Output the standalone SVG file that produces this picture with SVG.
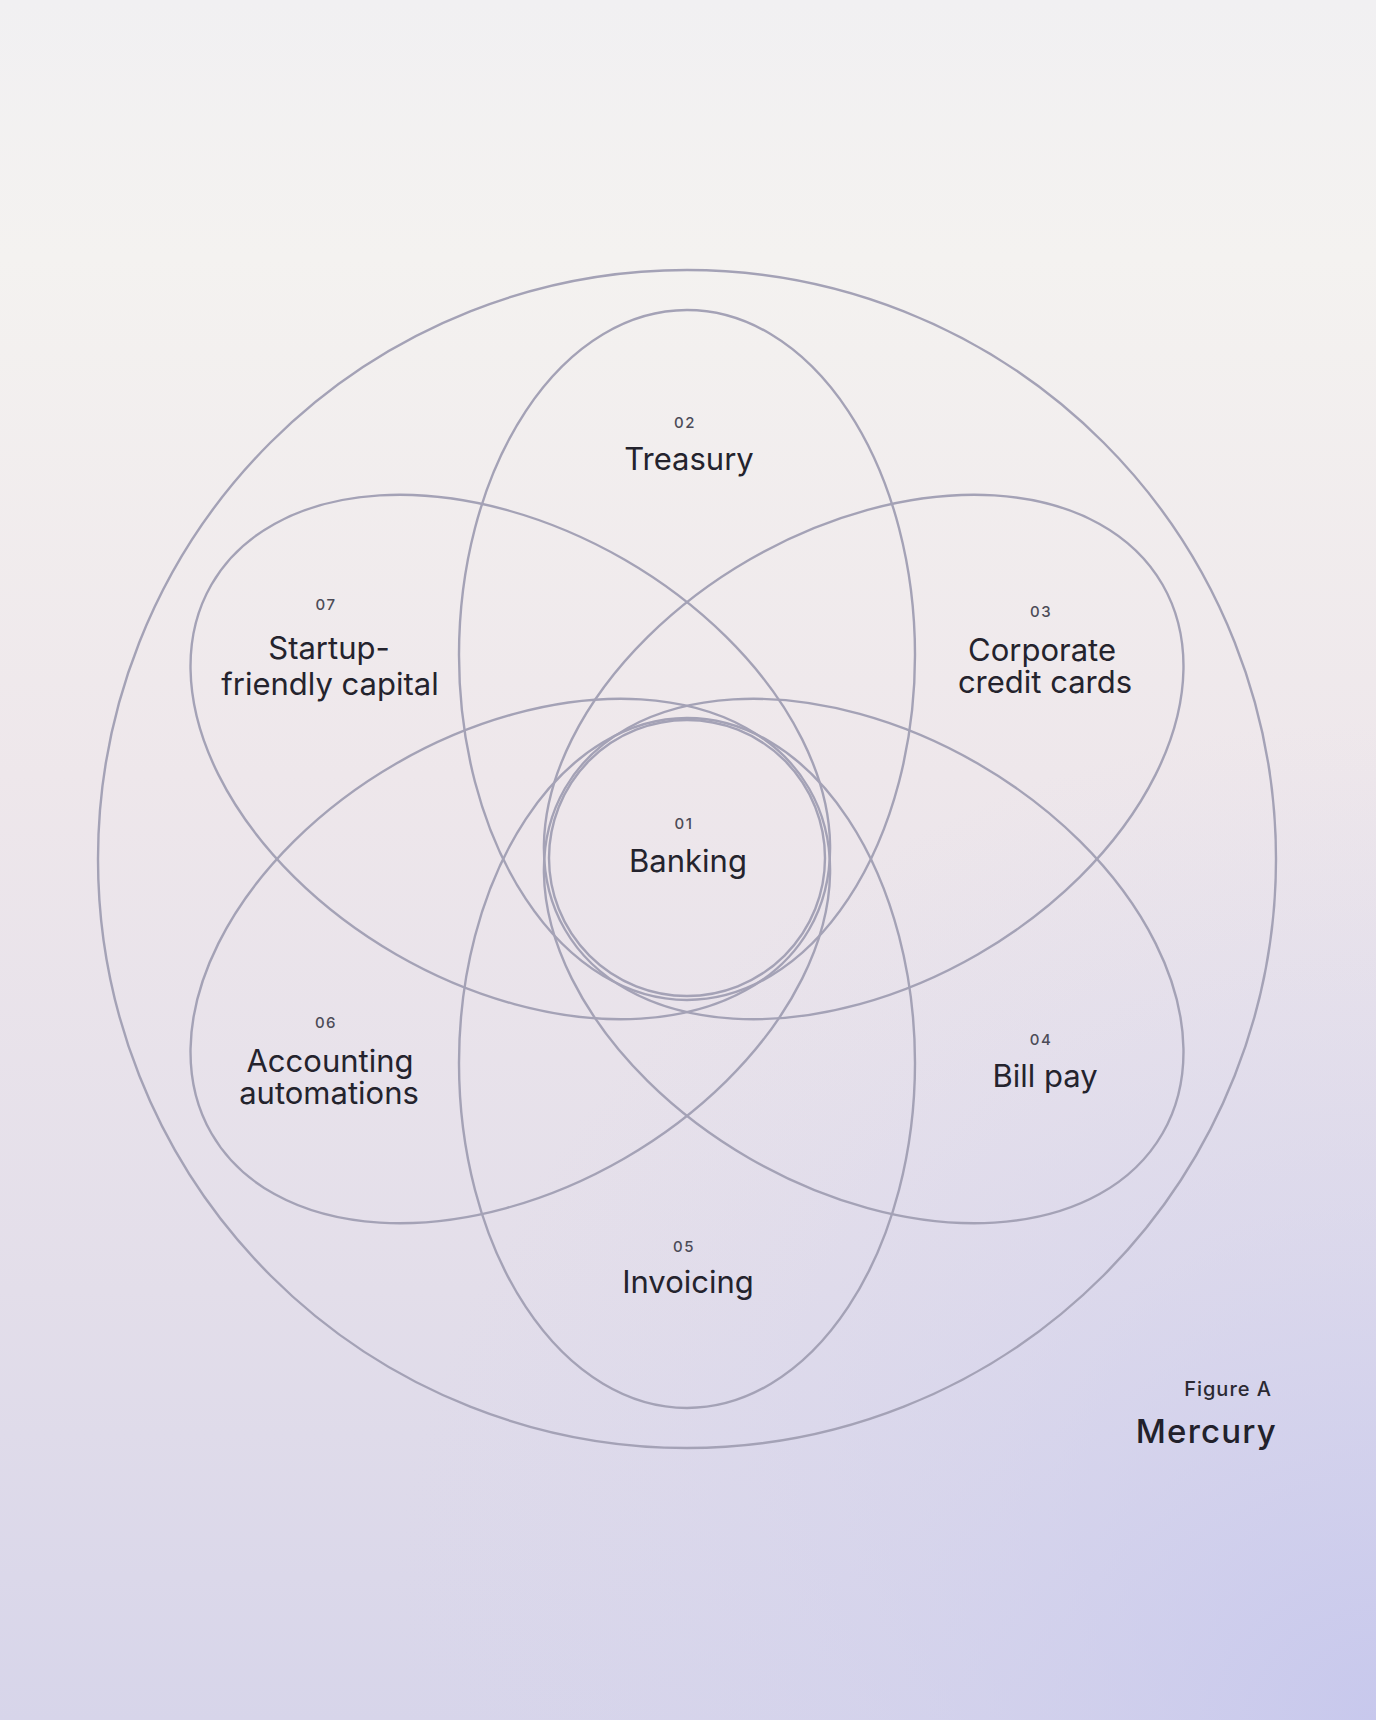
<svg xmlns="http://www.w3.org/2000/svg" width="1376" height="1720" viewBox="0 0 1376 1720">
  <defs>
    <linearGradient id="bg" x1="0" y1="0" x2="0" y2="1">
      <stop offset="0" stop-color="#f1f0f2"/>
      <stop offset="0.15" stop-color="#f4f2f0"/>
      <stop offset="0.45" stop-color="#eee7eb"/>
      <stop offset="0.75" stop-color="#e3deea"/>
      <stop offset="1" stop-color="#d7d5ea"/>
    </linearGradient>
    <radialGradient id="glow" cx="1376" cy="1720" r="1000" gradientUnits="userSpaceOnUse">
      <stop offset="0" stop-color="#c6c7ed" stop-opacity="0.9"/>
      <stop offset="0.5" stop-color="#cfcfee" stop-opacity="0.4"/>
      <stop offset="1" stop-color="#d8d6ee" stop-opacity="0"/>
    </radialGradient>
    <style>
      .ring { fill: none; stroke: #a4a2b6; stroke-width: 2.4; }
      .num { font-family: Inter, "Liberation Sans", sans-serif; font-size: 15px; font-weight: 500; fill: #4c4b57; letter-spacing: 1.5px; text-anchor: middle; }
      .lbl { font-family: Inter, "Liberation Sans", sans-serif; font-size: 31px; font-weight: 400; fill: #24232d; text-anchor: middle; }
      .fig { font-family: Inter, "Liberation Sans", sans-serif; font-size: 20px; font-weight: 500; fill: #2a2933; letter-spacing: 1px; text-anchor: end; }
      .brand { font-family: Inter, "Liberation Sans", sans-serif; font-size: 33px; font-weight: 500; fill: #22212b; letter-spacing: 1.2px; text-anchor: end; }
    </style>
  </defs>

  <rect x="0" y="0" width="1376" height="1720" fill="url(#bg)"/>
  <rect x="0" y="0" width="1376" height="1720" fill="url(#glow)"/>

  <g id="outer">
    <circle class="ring" cx="687" cy="859" r="589"/>
  </g>

  <g id="n02-treasury">
    <ellipse class="ring" cx="687" cy="655" rx="228" ry="345"/>
    <text class="num" x="685" y="428">02</text>
    <text class="lbl" x="689" y="470">Treasury</text>
  </g>

  <g id="n03-corporate">
    <ellipse class="ring" cx="863.7" cy="757" rx="345" ry="228" transform="rotate(-30 863.7 757)"/>
    <text class="num" x="1041" y="617">03</text>
    <text class="lbl" x="1042" y="661">Corporate</text>
    <text class="lbl" x="1045" y="693">credit cards</text>
  </g>

  <g id="n04-billpay">
    <ellipse class="ring" cx="863.7" cy="961" rx="345" ry="228" transform="rotate(30 863.7 961)"/>
    <text class="num" x="1041" y="1045">04</text>
    <text class="lbl" x="1045" y="1087">Bill pay</text>
  </g>

  <g id="n05-invoicing">
    <ellipse class="ring" cx="687" cy="1063" rx="228" ry="345"/>
    <text class="num" x="684" y="1252">05</text>
    <text class="lbl" x="688" y="1293">Invoicing</text>
  </g>

  <g id="n06-accounting">
    <ellipse class="ring" cx="510.3" cy="961" rx="345" ry="228" transform="rotate(-30 510.3 961)"/>
    <text class="num" x="326" y="1028">06</text>
    <text class="lbl" x="330" y="1072">Accounting</text>
    <text class="lbl" x="329" y="1104">automations</text>
  </g>

  <g id="n07-startup">
    <ellipse class="ring" cx="510.3" cy="757" rx="345" ry="228" transform="rotate(30 510.3 757)"/>
    <text class="num" x="326" y="610">07</text>
    <text class="lbl" x="329" y="659">Startup-</text>
    <text class="lbl" x="330" y="695">friendly capital</text>
  </g>

  <g id="n01-banking">
    <circle class="ring" cx="687" cy="858" r="138"/>
    <text class="num" x="684" y="829">01</text>
    <text class="lbl" x="688" y="872">Banking</text>
  </g>

  <g id="caption">
    <text class="fig" x="1272" y="1396">Figure A</text>
    <text class="brand" x="1277" y="1443">Mercury</text>
  </g>

  <g id="connectors"></g>
</svg>
